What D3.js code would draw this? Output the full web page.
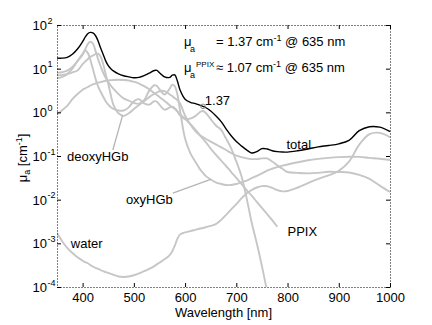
<!DOCTYPE html>
<html>
<head>
<meta charset="utf-8">
<script src="https://cdn.jsdelivr.net/npm/d3@7"></script>
<style>
  html, body { margin: 0; padding: 0; background: #fff; }
  svg { display: block; font-family: "Liberation Sans", Arial, Helvetica, sans-serif; }
</style>
</head>
<body>
<svg id="chart" width="432" height="325"></svg>
<script>
// Absorption spectra of tissue chromophores, mu_a in cm^-1 versus wavelength in nm
const wavelengths = [350,360,370,380,390,400,405,410,415,420,
  425,430,435,440,445,450,455,460,470,480,
  490,500,510,520,530,540,545,550,560,570,
  575,580,585,590,600,610,620,630,635,640,
  650,660,670,680,690,700,710,720,730,740,
  750,760,770,780,790,800,820,840,860,880,
  900,920,940,960,980,1000];

const total = [17.4,17.4,18.2,21.4,28.2,41.7,52.5,63.1,67.6,66.1,
  57.5,43.7,30.2,21.4,15.1,11.7,10.0,8.9,7.6,6.9,
  6.5,6.2,6.3,6.9,7.9,9.1,9.1,8.1,6.5,6.3,
  7.1,7.2,5.2,3.3,2.0,1.7,1.58,1.45,1.37,1.29,
  1.07,0.83,0.62,0.42,0.29,0.214,0.17,0.138,0.117,0.126,
  0.148,0.145,0.132,0.126,0.123,0.123,0.132,0.145,0.162,0.174,
  0.19,0.229,0.38,0.468,0.457,0.363];

const oxyHGb = [8.0,8.3,9.0,11,14.9,20.9,27.5,36.6,41.2,37.7,
  25.9,16.8,11.5,8.1,6.2,4.93,4.1,3.49,2.61,2.09,
  1.86,1.64,1.57,1.9,3.14,4.18,4.0,3.38,2.56,3.49,
  4.3,3.93,2.6,1.13,0.251,0.118,0.074,0.048,0.041,0.035,
  0.029,0.025,0.023,0.0217,0.0217,0.0228,0.025,0.0273,0.031,0.035,
  0.040,0.046,0.051,0.0557,0.060,0.064,0.072,0.080,0.086,0.0906,
  0.094,0.096,0.0953,0.0906,0.0865,0.081];

const deoxyHGb = [7.0,7.2,7.5,8.2,9.1,12.7,14.5,16.5,18.5,20,
  21.5,22,19,13,7.5,4.5,2.5,1.5,0.95,0.83,
  0.95,1.19,1.47,1.8,2.23,2.66,2.85,3.04,3.07,2.57,
  2.35,2.11,1.9,1.61,0.837,0.538,0.371,0.293,0.27,0.248,
  0.214,0.184,0.159,0.137,0.117,0.102,0.094,0.088,0.085,0.085,
  0.088,0.088,0.075,0.061,0.051,0.043,0.041,0.040,0.041,0.0435,
  0.043,0.042,0.037,0.030,0.021,0.015];

const water = [1.74e-3,1.12e-3,7.9e-4,6.0e-4,4.8e-4,4.0e-4,3.7e-4,3.5e-4,3.2e-4,2.95e-4,
  2.75e-4,2.6e-4,2.45e-4,2.3e-4,2.2e-4,2.1e-4,2.0e-4,1.9e-4,1.74e-4,1.7e-4,
  1.74e-4,1.86e-4,2.04e-4,2.3e-4,2.6e-4,3.0e-4,3.3e-4,3.6e-4,4.3e-4,5.4e-4,
  6.6e-4,8.9e-4,1.26e-3,1.58e-3,1.78e-3,1.9e-3,2.04e-3,2.19e-3,2.24e-3,2.34e-3,
  2.5e-3,2.75e-3,3.4e-3,4.5e-3,6.0e-3,7.9e-3,0.0107,0.0138,0.0166,0.019,
  0.0204,0.0204,0.0186,0.0166,0.0155,0.0158,0.019,0.024,0.030,0.036,
  0.0457,0.074,0.182,0.316,0.339,0.269];

const ppix = [6,6.5,7.5,10,15,22,26,23,16,10,
  6,4,3,2.3,1.8,1.5,1.3,1.2,1.1,1.1,
  1.3,1.8,2.0,1.6,1.5,1.8,1.75,1.5,1.15,1.3,
  1.35,1.25,1.05,0.85,0.7,0.72,0.82,1.03,1.07,0.98,
  0.7,0.5,0.4,0.25,0.15,0.075,0.035,0.011,0.003,0.001,
  0.0003,0.00008,0.00002,null,null,null,null,null,null,null,
  null,null,null,null,null,null];

const broadAbs = [0.89,1.12,1.41,2.0,2.63,3.3,3.55,3.8,4.07,4.37,
  4.57,4.79,4.9,5.13,5.25,5.37,5.43,5.5,5.56,5.5,
  5.37,5.0,4.57,3.98,3.39,2.75,2.5,2.24,1.82,1.45,
  1.32,1.2,1.05,0.91,0.71,0.54,0.4,0.29,0.245,0.21,
  0.148,0.107,0.079,0.059,0.043,0.0316,0.023,0.0166,0.0123,0.0089,
  0.0065,0.0047,0.0034,0.0024,null,null,null,null,null,null,
  null,null,null,null,null,null];

const xTicks = [400,500,600,700,800,900,1000];
const yTickExponents = [-4,-3,-2,-1,0,1,2];

// Highlighted value at the 635 nm treatment wavelength
const markWavelength = 635;
const markTotal = 1.37;
const markPpix = 1.07;

// ---- layout ----
const svg = d3.select("#chart");
const plotLeft = 57, plotRight = 390, plotTop = 25, plotBottom = 287;
const font = 13, smallFont = 9;

const x = d3.scaleLinear().domain([350, 1000]).range([plotLeft, plotRight]);
const y = d3.scaleLog().domain([1e-4, 1e2]).range([plotBottom, plotTop]);

svg.append("defs").append("clipPath").attr("id", "plotClip")
  .append("rect").attr("x", plotLeft).attr("y", plotTop)
  .attr("width", plotRight - plotLeft).attr("height", plotBottom - plotTop);

const seriesPoints = vals => wavelengths.map((w, i) => [w, vals[i]]);
const line = d3.line()
  .defined(d => d[1] != null && d[1] > 0)
  .x(d => x(d[0]))
  .y(d => y(d[1]))
  .curve(d3.curveCatmullRom.alpha(0.5));

const plot = svg.append("g").attr("clip-path", "url(#plotClip)");

const grey = "#c6c6c6";
[water, broadAbs, oxyHGb, deoxyHGb, ppix].forEach(vals => {
  plot.append("path")
    .attr("d", line(seriesPoints(vals)))
    .attr("fill", "none")
    .attr("stroke", grey)
    .attr("stroke-width", 1.9)
    .attr("stroke-linejoin", "round");
});

// leader lines from curve names to their curves
const leaders = [
  { from: [459, 0.137], to: [478, 0.85] },
  { from: [576, 0.0142], to: [650, 0.029] }
];
leaders.forEach(l => {
  plot.append("line")
    .attr("x1", x(l.from[0])).attr("y1", y(l.from[1]))
    .attr("x2", x(l.to[0])).attr("y2", y(l.to[1]))
    .attr("stroke", "#b4b4b4").attr("stroke-width", 1.3);
});

plot.append("path")
  .attr("d", line(seriesPoints(total)))
  .attr("fill", "none")
  .attr("stroke", "#000")
  .attr("stroke-width", 1.4)
  .attr("stroke-linejoin", "round");

plot.append("circle")
  .attr("cx", x(markWavelength)).attr("cy", y(markTotal))
  .attr("r", 2.3).attr("fill", "none")
  .attr("stroke", "#888").attr("stroke-width", 1);

// ---- axes ----
function styleAxis(g) {
  g.select(".domain").remove();
  g.selectAll(".tick line").attr("stroke", "#000").attr("stroke-width", 1);
  g.selectAll("text").attr("font-size", font)
    .attr("font-family", '"Liberation Sans", Arial, sans-serif').attr("fill", "#000");
}

svg.append("g").attr("transform", `translate(0,${plotBottom})`)
  .call(d3.axisBottom(x).tickValues(xTicks).tickFormat(d3.format("d"))
    .tickSize(-4).tickSizeOuter(0).tickPadding(6))
  .call(styleAxis);
svg.append("g").attr("transform", `translate(0,${plotTop})`)
  .call(d3.axisTop(x).tickValues(xTicks).tickSize(-4).tickSizeOuter(0).tickFormat(""))
  .call(styleAxis);

const yTicks = yTickExponents.map(e => Math.pow(10, e));
svg.append("g").attr("transform", `translate(${plotLeft},0)`)
  .call(d3.axisLeft(y).tickValues(yTicks).tickSize(-4).tickSizeOuter(0).tickFormat(""))
  .call(styleAxis);
svg.append("g").attr("transform", `translate(${plotRight},0)`)
  .call(d3.axisRight(y).tickValues(yTicks).tickSize(-4).tickSizeOuter(0).tickFormat(""))
  .call(styleAxis);

// frame
svg.append("rect")
  .attr("x", plotLeft + 0.5).attr("y", plotTop + 0.5)
  .attr("width", plotRight - plotLeft).attr("height", plotBottom - plotTop)
  .attr("fill", "none").attr("stroke", "#000")
  .attr("stroke-width", 1).attr("stroke-dasharray", "1,2");

// decade labels 10^n
const yLab = svg.append("g");
yTickExponents.forEach(e => {
  const py = y(Math.pow(10, e));
  yLab.append("text").attr("x", 47).attr("y", py + 5)
    .attr("text-anchor", "end").attr("font-size", font).text("10");
  yLab.append("text").attr("x", 47.5).attr("y", py - 1.5)
    .attr("font-size", smallFont).text(String(e));
});

// axis titles
svg.append("text")
  .attr("x", (plotLeft + plotRight) / 2).attr("y", 316.5)
  .attr("text-anchor", "middle").attr("font-size", font)
  .text("Wavelength [nm]");

const yTitle = svg.append("text")
  .attr("transform", `translate(27,158) rotate(-90)`)
  .attr("text-anchor", "middle").attr("font-size", font);
yTitle.append("tspan").text("μ");
yTitle.append("tspan").attr("dy", 3).attr("font-size", smallFont).text("a");
yTitle.append("tspan").attr("dy", -3).text(" [cm");
yTitle.append("tspan").attr("dy", -5).attr("font-size", smallFont).text("-1");
yTitle.append("tspan").attr("dy", 5).text("]");

// annotations
function valueLine(yb, sup, sym, val) {
  svg.append("text").attr("x", 184).attr("y", yb).attr("font-size", font).text("μ");
  svg.append("text").attr("x", 190).attr("y", yb + 6).attr("font-size", smallFont).text("a");
  if (sup) {
    svg.append("text").attr("x", 196).attr("y", yb - 5).attr("font-size", 8).text(sup);
  }
  const t = svg.append("text").attr("x", 216).attr("y", yb).attr("font-size", font);
  t.append("tspan").text(`${sym} ${val.toFixed(2)} cm`);
  t.append("tspan").attr("dy", -5).attr("font-size", smallFont).text("-1");
  t.append("tspan").attr("dy", 5).text(` @ ${markWavelength} nm`);
}
valueLine(46, null, "=", markTotal);
valueLine(72, "PPIX", "≈", markPpix);

const curveLabels = [
  { text: "total", at: [798, 0.145] },
  { text: "deoxyHGb", at: [369.5, 0.0769] },
  { text: "oxyHGb", at: [484.5, 0.00796] },
  { text: "water", at: [377, 7.8e-4] },
  { text: "PPIX", at: [800, 1.48e-3] },
  { text: markTotal.toFixed(2), at: [638.5, 1.47] }
];
curveLabels.forEach(l => {
  svg.append("text").attr("x", x(l.at[0])).attr("y", y(l.at[1]))
    .attr("font-size", font).text(l.text);
});
</script>
</body>
</html>
